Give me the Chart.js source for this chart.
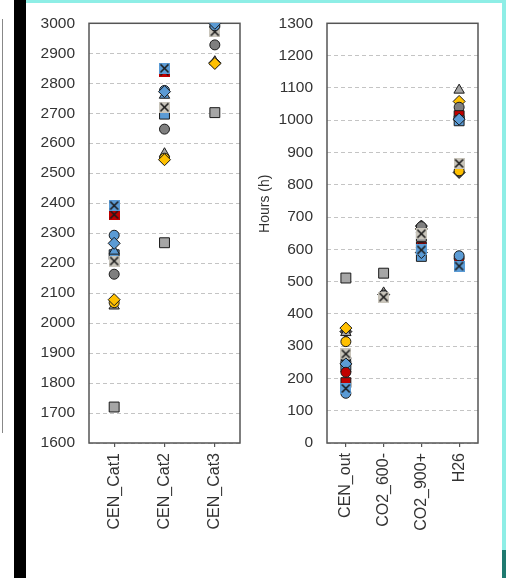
<!DOCTYPE html>
<html><head><meta charset="utf-8">
<script src="https://cdn.jsdelivr.net/npm/chart.js@4.4.0/dist/chart.umd.min.js"></script>
<style>
html,body{margin:0;padding:0;background:#fff;width:506px;height:578px;overflow:hidden;position:relative}
#c1wrap{position:absolute;left:30px;top:0;width:220px;height:578px}
#c2wrap{position:absolute;left:250px;top:0;width:246px;height:578px}
.deco{position:absolute}
</style></head><body>
<div class="deco" style="left:2px;top:19px;width:1px;height:414px;background:#888"></div>
<div class="deco" style="left:14px;top:0;width:12px;height:578px;background:#000"></div>
<div class="deco" style="left:26px;top:0;width:480px;height:3px;background:#8eeee6"></div>
<div class="deco" style="left:502px;top:0;width:4px;height:550px;background:#8eeee6"></div>
<div class="deco" style="left:502px;top:550px;width:4px;height:28px;background:#1f7a70"></div>
<div id="c1wrap"><canvas id="c1"></canvas></div>
<div id="c2wrap"><canvas id="c2"></canvas></div>
<script>
// ---- categories & ticks ----
const catsLeft = ['CEN_Cat1', 'CEN_Cat2', 'CEN_Cat3'];
const catsRight = ['CEN_out', 'CO2_600-', 'CO2_900+', 'H26'];
const yTicksLeft = [1600,1700,1800,1900,2000,2100,2200,2300,2400,2500,2600,2700,2800,2900,3000];
const yTicksRight = [0,100,200,300,400,500,600,700,800,900,1000,1100,1200,1300];
const yTitleRight = 'Hours (h)';

// ---- series values (left chart) ----
const sqGrayL   = [1720, 2268, 2702];
const sqBlueL   = [2228, 2697, null];
const ciGrayL   = [2163, 2647, 2928];
const ciBlueL   = [2293, 2776, 2992];
const ciYellowL = [2068, 2550, null];
const trGrayL   = [2057, 2565, 2872];
const trBlueL   = [2240, 2760, 2997];
const xGrayL    = [2207, 2720, 2972];
const xBlueL    = [2392, 2850, null];
const xRedL     = [2362, 2840, null];
const diYellowL = [2078, 2545, 2866];
const diBlueL   = [2266, 2772, 3000];
const diDarkL   = [null, null, 2868];

// ---- series values (right chart) ----
const sqGrayR   = [511, 526, 640, null];
const sqBlueR   = [240, null, 578, 998];
const sqRedR    = [187, null, 607, 1014];
const ciGrayR   = [262, 458, 670, 1040];
const ciBlueR   = [154, null, 600, 580];
const ciYellowR = [314, null, null, 843];
const ciRedR    = [219, null, 605, 572];
const trGrayR   = [342, 465, 660, 1093];
const trBlueR   = [230, null, 595, null];
const xGrayR    = [276, 452, 648, 866];
const xBlueR    = [169, null, 598, 548];
const diYellowR = [356, null, 663, 1058];
const diBlueR   = [245, null, 590, 1003];
const diDarkR   = [345, 460, 672, 838];

// ---- styles ----
const GRAY = '#a6a6a6', DGRAY = '#7f7f7f', BLUE = '#5b9bd5', RED = '#c00000', YEL = '#ffc000', EDGE = '#1a1a1a';
function xMarker(fill) {
  const s = 11, c = document.createElement('canvas');
  c.width = s; c.height = s;
  const g = c.getContext('2d');
  g.fillStyle = fill; g.fillRect(0, 0, s, s);
  g.strokeStyle = EDGE; g.lineWidth = 1.6;
  g.beginPath(); g.moveTo(1.5, 1.5); g.lineTo(s - 1.5, s - 1.5);
  g.moveTo(s - 1.5, 1.5); g.lineTo(1.5, s - 1.5); g.stroke();
  return c;
}
const XG = xMarker('#c9c5bb'), XB = xMarker(BLUE), XR = xMarker(RED);

function ds(label, data, style, fill, r) {
  return { label, data, showLine: false, pointStyle: style, pointRadius: r, pointHoverRadius: r,
    backgroundColor: fill, borderColor: EDGE, borderWidth: 1, pointBorderWidth: 1 };
}
function leftSets() {
  return [
    ds('diBlue', diBlueL, 'rectRot', BLUE, 6),
    ds('ciBlue', ciBlueL, 'circle', BLUE, 5),
    ds('trBlue', trBlueL, 'triangle', BLUE, 6),
    ds('xBlue', xBlueL, XB, BLUE, 5),
    ds('xRed', xRedL, XR, RED, 5),
    ds('xGray', xGrayL, XG, GRAY, 5),
    ds('sqBlue', sqBlueL, 'rect', BLUE, 7),
    ds('ciGray', ciGrayL, 'circle', DGRAY, 5),
    ds('diYellow', diYellowL, 'rectRot', YEL, 6),
    ds('ciYellow', ciYellowL, 'circle', YEL, 5),
    ds('trGray', trGrayL, 'triangle', GRAY, 6),
    ds('diDark', diDarkL, 'rectRot', '#5a5a3a', 6),
    ds('sqGray', sqGrayL, 'rect', GRAY, 7)
  ];
}
function rightSets() {
  return [
    ds('xBlue', xBlueR, XB, BLUE, 5),
    ds('ciBlue', ciBlueR, 'circle', BLUE, 5),
    ds('ciRed', ciRedR, 'circle', RED, 5),
    ds('diBlue', diBlueR, 'rectRot', BLUE, 6),
    ds('sqBlue', sqBlueR, 'rect', BLUE, 7),
    ds('sqRed', sqRedR, 'rect', RED, 7),
    ds('trBlue', trBlueR, 'triangle', BLUE, 6),
    ds('xGray', xGrayR, XG, GRAY, 5),
    ds('ciGray', ciGrayR, 'circle', DGRAY, 5),
    ds('ciYellow', ciYellowR, 'circle', YEL, 5),
    ds('diYellow', diYellowR, 'rectRot', YEL, 6),
    ds('trGray', trGrayR, 'triangle', GRAY, 6),
    ds('diDark', diDarkR, 'rectRot', '#4a4a4a', 6),
    ds('sqGray', sqGrayR, 'rect', GRAY, 7)
  ];
}

const boxPlugin = {
  id: 'box',
  beforeDatasetsDraw(chart) {
    const { ctx, chartArea: a } = chart;
    ctx.save();
    ctx.strokeStyle = '#555'; ctx.lineWidth = 1.5;
    ctx.strokeRect(a.left, a.top, a.right - a.left, a.bottom - a.top);
    ctx.restore();
  }
};
// y-axis title drawn beside the axis, positioned as in the reference
const titlePlugin = {
  id: 'ytitle',
  afterDraw(chart, args, opts) {
    if (!opts.text) return;
    const { ctx, chartArea: a } = chart;
    const y = chart.scales.y;
    ctx.save();
    ctx.font = '14px "Liberation Sans", Arial, sans-serif';
    ctx.fillStyle = '#333';
    ctx.textAlign = 'center'; ctx.textBaseline = 'middle';
    ctx.translate(y.left + 15, a.top + (a.bottom - a.top) * 0.43);
    ctx.rotate(-Math.PI / 2);
    ctx.fillText(opts.text, 0, 0);
    ctx.restore();
  }
};

Chart.defaults.font.family = '"Liberation Sans", Arial, sans-serif';
Chart.defaults.color = '#333';

function makeChart(id, cats, sets, yT, yW, padR, title) {
  return new Chart(document.getElementById(id), {
    type: 'line',
    data: { labels: cats, datasets: sets },
    plugins: [boxPlugin, titlePlugin],
    options: {
      responsive: true, maintainAspectRatio: false, animation: false,
      layout: { padding: { top: 20, right: padR, bottom: 10, left: 0 } },
      plugins: { legend: { display: false }, tooltip: { enabled: false }, ytitle: { text: title } },
      scales: {
        x: {
          type: 'category', offset: true,
          grid: { offset: false, drawOnChartArea: false, drawTicks: true, tickLength: 4, color: '#555', lineWidth: 1.2 },
          border: { display: false },
          ticks: { maxRotation: 90, minRotation: 90, padding: 6, font: { size: 16 }, color: '#333' },
          afterFit(s) { s.height = 125; }
        },
        y: {
          min: yT[0], max: yT[yT.length - 1],
          afterBuildTicks(s) { s.ticks = yT.map(v => ({ value: v })); },
          grid: { drawTicks: false, color: '#c4c4c4', lineWidth: 1 },
          border: { display: false, dash: [4, 3] },
          ticks: { padding: 14, font: { size: 15.5 }, color: '#333', callback: v => String(v) },
          afterFit(s) { s.width = yW; }
        }
      }
    }
  });
}
makeChart('c1', catsLeft, leftSets(), yTicksLeft, 59, 10, null);
makeChart('c2', catsRight, rightSets(), yTicksRight, 77, 18, yTitleRight);
</script>
</body></html>
